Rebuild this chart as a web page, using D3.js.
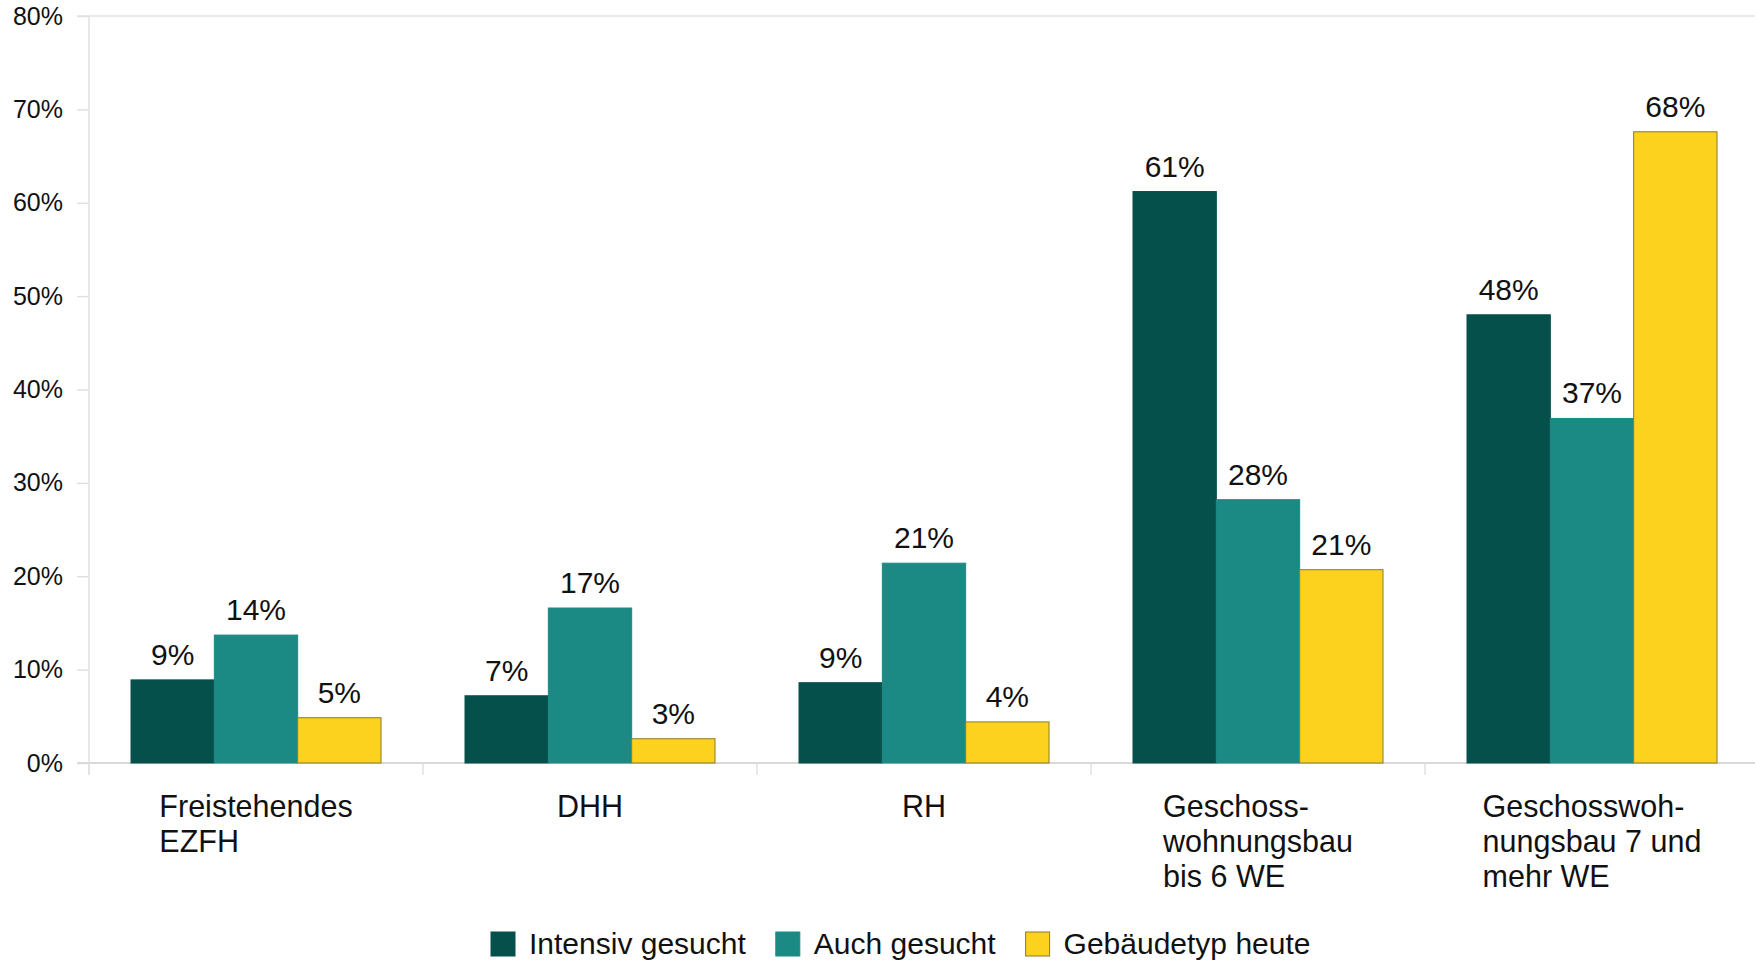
<!DOCTYPE html>
<html>
<head>
<meta charset="utf-8">
<script src="https://cdn.jsdelivr.net/npm/d3@7"></script>
<style>
  html, body { margin: 0; padding: 0; background: #ffffff; }
  svg { display: block; font-family: "Liberation Sans", Arial, Helvetica, sans-serif; }
</style>
</head>
<body>
<svg id="chart" width="1755" height="965"></svg>
<script>
// ---- data ----
const categories = ["Freistehendes EZFH", "DHH", "RH", "Geschosswohnungsbau bis 6 WE", "Geschosswohnungsbau 7 und mehr WE"];
const categoryLines = [
  ["Freistehendes", "EZFH"],
  ["DHH"],
  ["RH"],
  ["Geschoss-", "wohnungsbau", "bis 6 WE"],
  ["Geschosswoh-", "nungsbau 7 und", "mehr WE"]
];
const seriesNames = ["Intensiv gesucht", "Auch gesucht", "Gebäudetyp heute"];
const intensivGesucht = [8.9, 7.2, 8.6, 61.2, 48.0];
const auchGesucht = [13.7, 16.6, 21.4, 28.2, 36.9];
const gebaeudetypHeute = [4.85, 2.6, 4.4, 20.7, 67.6];
const valueLabels = [
  ["9%", "7%", "9%", "61%", "48%"],
  ["14%", "17%", "21%", "28%", "37%"],
  ["5%", "3%", "4%", "21%", "68%"]
];
const yTicks = [0, 10, 20, 30, 40, 50, 60, 70, 80];

// ---- layout ----
const colors = ["#06504c", "#1b8a85", "#fdd21e"];
const strokes = ["#06504c", "#1b8a85", "#8c7a2a"];
const seriesValues = [intensivGesucht, auchGesucht, gebaeudetypHeute];

const svg = d3.select("#chart");
const plotLeft = 89, plotTop = 16, plotBottom = 763;
const bandW = 334;

const x = d3.scaleBand().domain(categories).range([plotLeft, plotLeft + bandW * categories.length]).paddingInner(0).paddingOuter(0);
const x1 = d3.scaleBand().domain(seriesNames).range([42, bandW - 42]).padding(0);
const y = d3.scaleLinear().domain([0, 80]).range([plotBottom, plotTop]);

// top border line
svg.append("line")
  .attr("x1", 77).attr("x2", 1755)
  .attr("y1", y(80)).attr("y2", y(80))
  .attr("stroke", "#e3e3e3").attr("stroke-width", 1.5);

// y axis
const yAxis = d3.axisLeft(y).tickValues(yTicks).tickFormat(d => d + "%").tickSize(12).tickPadding(14);
const gy = svg.append("g").attr("transform", `translate(${plotLeft},0)`).call(yAxis);
gy.select(".domain").attr("stroke", "#e0e0e0").attr("stroke-width", 1.5)
  .attr("d", `M0,${plotTop}V${plotBottom + 12}`);
gy.selectAll(".tick line").attr("stroke", "#e0e0e0").attr("stroke-width", 1.5);
gy.selectAll(".tick text").attr("fill", "#111").style("font-size", "25px")
  .style("font-family", "'Liberation Sans', Arial, sans-serif");

// baseline
svg.append("line")
  .attr("x1", 77).attr("x2", 1755)
  .attr("y1", plotBottom).attr("y2", plotBottom)
  .attr("stroke", "#d9d9d9").attr("stroke-width", 2);

// category separators
svg.append("g").selectAll("line")
  .data(categories)
  .join("line")
  .attr("x1", d => x(d)).attr("x2", d => x(d))
  .attr("y1", plotBottom).attr("y2", plotBottom + 12)
  .attr("stroke", "#e0e0e0").attr("stroke-width", 1.5);

// bars
const groups = svg.append("g").selectAll("g")
  .data(categories)
  .join("g")
  .attr("transform", d => `translate(${x(d)},0)`);

groups.each(function(cat, ci) {
  const g = d3.select(this);
  seriesNames.forEach((s, si) => {
    const v = seriesValues[si][ci];
    g.append("rect")
      .attr("x", x1(s))
      .attr("width", x1.bandwidth())
      .attr("y", y(v))
      .attr("height", y(0) - y(v))
      .attr("fill", colors[si])
      .attr("stroke", strokes[si])
      .attr("stroke-width", 1);
    g.append("text")
      .attr("x", x1(s) + x1.bandwidth() / 2)
      .attr("y", y(v) - 15)
      .attr("text-anchor", "middle")
      .style("font-size", "30px")
      .attr("fill", "#111")
      .text(valueLabels[si][ci]);
  });
});

// category labels (left-aligned block, centred on the band)
categories.forEach((cat, ci) => {
  const lines = categoryLines[ci];
  const g = svg.append("g");
  const texts = lines.map((ln, li) => g.append("text")
    .attr("y", 817 + li * 35)
    .style("font-size", "30.5px")
    .attr("fill", "#111")
    .text(ln));
  const maxW = d3.max(texts, t => t.node().getComputedTextLength());
  const center = x(cat) + bandW / 2;
  const left = center - maxW / 2;
  texts.forEach(t => t.attr("x", left));
});

// legend
const legend = svg.append("g");
let lx = 491;
seriesNames.forEach((s, si) => {
  legend.append("rect")
    .attr("x", lx).attr("y", 932)
    .attr("width", 24).attr("height", 24)
    .attr("fill", colors[si])
    .attr("stroke", si === 2 ? "#8c7a2a" : colors[si])
    .attr("stroke-width", 1);
  const t = legend.append("text")
    .attr("x", lx + 38).attr("y", 954)
    .style("font-size", "30px")
    .attr("fill", "#111")
    .text(s);
  lx = lx + 38 + t.node().getComputedTextLength() + 30;
});
</script>
</body>
</html>
